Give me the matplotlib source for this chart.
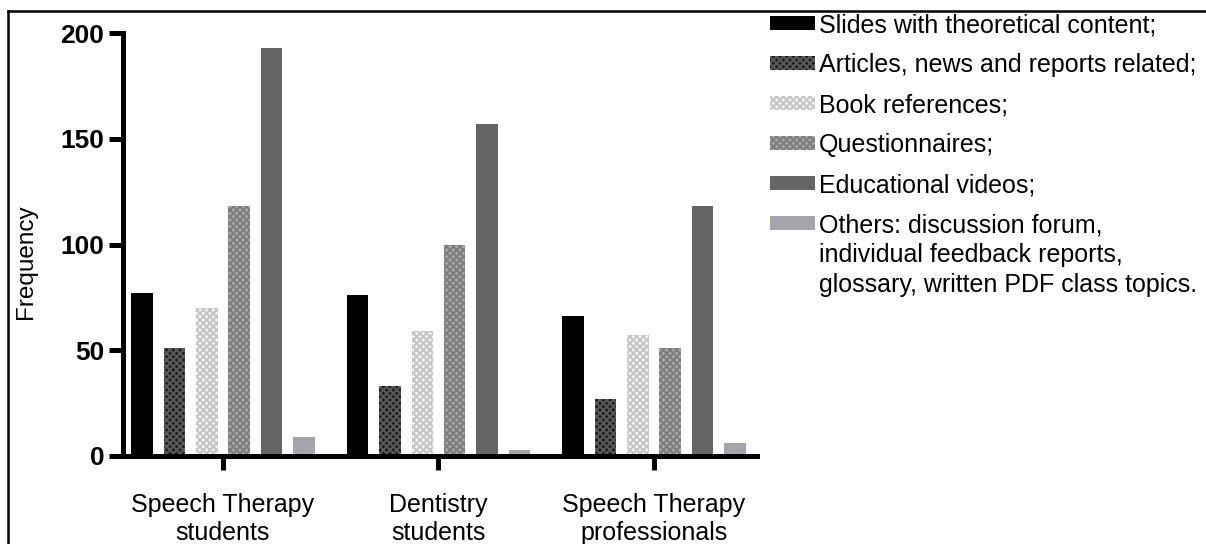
import matplotlib.pyplot as plt
import numpy as np
from matplotlib.lines import Line2D

plt.rcParams['font.family'] = ['Liberation Sans', 'DejaVu Sans']
plt.rcParams['hatch.linewidth'] = 1.4

groups = ['Speech Therapy\nstudents', 'Dentistry\nstudents', 'Speech Therapy\nprofessionals']
labels = ['Slides with theoretical content;',
          'Articles, news and reports related;',
          'Book references;',
          'Questionnaires;',
          'Educational videos;',
          'Others: discussion forum,']
others_rest = ['individual feedback reports,', 'glossary, written PDF class topics.']

slides = [77, 76, 66]
articles = [51, 33, 27]
books = [70, 59, 57]
questionnaires = [118, 100, 51]
videos = [193, 157, 118]
others = [9, 3, 6]

series = [slides, articles, books, questionnaires, videos, others]
faces = ['#000000', '#1e1e1e', '#f4f4f4', '#a9a9a9', '#656565', '#a4a4aa']
hatch_cols = ['#000000', '#5a5a5a', '#c4c4c4', '#7c7c7c', '#656565', '#a4a4aa']
hatches = [None, 'xxxxx', 'xxxxx', 'xxxxx', None, None]

W, H = 1206, 544
fig = plt.figure(figsize=(W / 100, H / 100), dpi=100)
ax = fig.add_axes([0.1016, 0.1618, 0.5261, 0.7775])

x = np.arange(len(groups))
w = 0.1
step = 0.15
handles = []
for i, vals in enumerate(series):
    b = ax.bar(x + (i - 2.5) * step, vals, w, color=faces[i], edgecolor=hatch_cols[i],
               hatch=hatches[i], linewidth=0, label=labels[i])
    handles.append(b)

ax.set_xlim(-0.466, 2.478)
ax.set_ylim(0, 200)
ax.set_yticks([0, 50, 100, 150, 200])
ax.set_xticks(x)
ax.set_xticklabels(groups, fontsize=18, linespacing=1.2)
for t in ax.get_yticklabels():
    t.set_fontweight('bold')
    t.set_fontsize(19)

for s in ['top', 'right']:
    ax.spines[s].set_visible(False)
for s in ['left', 'bottom']:
    ax.spines[s].set_linewidth(3.6)
ax.tick_params(axis='both', width=3.6, length=10, direction='out')
ax.tick_params(axis='x', pad=16.5)
ax.tick_params(axis='y', pad=3)

fig.text(26 / W, 1 - 262 / H, 'Frequency', rotation=90, ha='center', va='center', fontsize=17.5)

leg = fig.legend(handles=handles, loc='upper left', bbox_to_anchor=(770 / W, 1 - 13 / H),
                 frameon=False, fontsize=18, borderpad=0, borderaxespad=0,
                 handlelength=1.8, handleheight=0.44, handletextpad=0.16, labelspacing=0.64)

# the long "Others" label goes on under its first line, 30 px per line
fig.canvas.draw()
last = leg.get_texts()[-1]
bx, by = last.get_transform().transform(last.get_position())
for k, line in enumerate(others_rest):
    fig.text(bx / W, (by - 30 * (k + 1)) / H, line, ha='left', va='baseline', fontsize=18)

# frame around the picture
fig.add_artist(Line2D([8 / W, 1], [1 - 11 / H, 1 - 11 / H], transform=fig.transFigure, color='black', lw=1.8))
fig.add_artist(Line2D([8 / W, 8 / W], [0, 1 - 11 / H], transform=fig.transFigure, color='black', lw=1.8))

fig.savefig('out.png', dpi=100)
